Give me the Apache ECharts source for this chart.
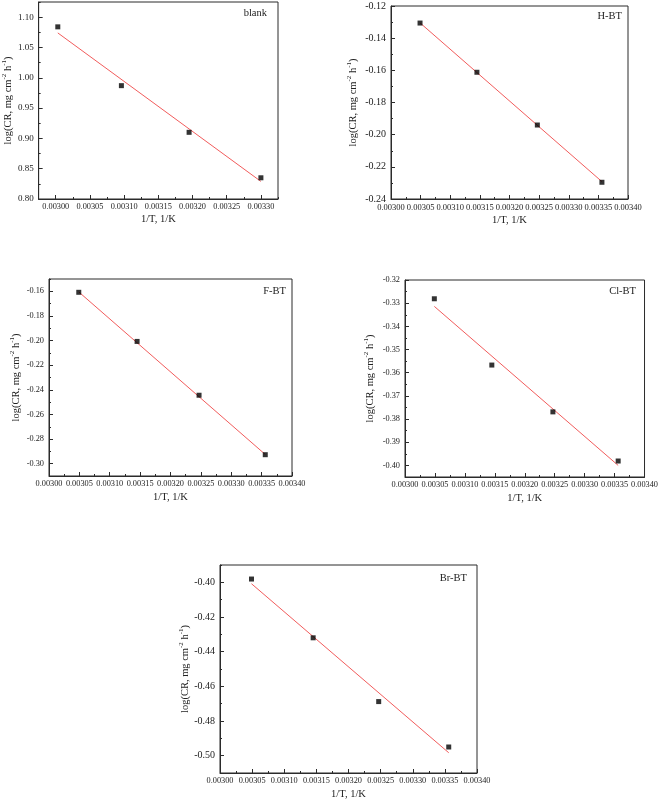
<!DOCTYPE html>
<html>
<head>
<meta charset="utf-8">
<script src="https://cdn.jsdelivr.net/npm/echarts@6/dist/echarts.min.js"></script>
<style>
html,body{margin:0;padding:0;background:#fff;}
#chart{width:661px;height:803px;}
</style>
</head>
<body>
<div id="chart"></div>
<script>
// ---------- data ----------
const panelNames = ['blank', 'H-BT', 'F-BT', 'Cl-BT', 'Br-BT'];

const xBlank = [0.003003, 0.003096, 0.003195, 0.003300];
const xBT = [0.003049, 0.003145, 0.003247, 0.003356];

const yBlank = [1.084, 0.987, 0.910, 0.835];
const yHBT = [-0.1306, -0.1612, -0.1940, -0.2296];
const yFBT = [-0.1608, -0.2007, -0.2444, -0.2927];
const yClBT = [-0.3281, -0.3567, -0.3769, -0.3981];
const yBrBT = [-0.3981, -0.4320, -0.4688, -0.4950];

// fitted line end points
const fitXBlank = [0.003003, 0.003300];
const fitXBT = [0.003049, 0.003356];
const fitBlank = [1.074, 0.829];
const fitHBT = [-0.1305, -0.2292];
const fitFBT = [-0.1605, -0.2925];
const fitClBT = [-0.3314, -0.4000];
const fitBrBT = [-0.4008, -0.4983];

// tick labels
const xTicksBlank = [0.00300, 0.00305, 0.00310, 0.00315, 0.00320, 0.00325, 0.00330];
const xTicksBT = [0.00300, 0.00305, 0.00310, 0.00315, 0.00320, 0.00325, 0.00330, 0.00335, 0.00340];
const yTicksBlank = [0.80, 0.85, 0.90, 0.95, 1.00, 1.05, 1.10];
const yTicksHBT = [-0.24, -0.22, -0.20, -0.18, -0.16, -0.14, -0.12];
const yTicksFBT = [-0.30, -0.28, -0.26, -0.24, -0.22, -0.20, -0.18, -0.16];
const yTicksClBT = [-0.40, -0.39, -0.38, -0.37, -0.36, -0.35, -0.34, -0.33, -0.32];
const yTicksBrBT = [-0.50, -0.48, -0.46, -0.44, -0.42, -0.40];

// ---------- layout / style ----------
const FONT = '"Liberation Serif", "Times New Roman", serif';
const panels = [
  {name: panelNames[0], x: xBlank, y: yBlank, fx: fitXBlank, fy: fitBlank,
   xr: [0.002975, 0.003325], xMinor: 0.000025, xT: xTicksBlank,
   yr: [0.80, 1.125], yMinor: 0.025, yT: yTicksBlank,
   grid: {left: 35, top: 2, width: 243, height: 197}, yFont: 9, xFont: 8.3, yGap: 22, xGap: 15,
   lab: {right: 394, top: 8}},
  {name: panelNames[1], x: xBT, y: yHBT, fx: fitXBT, fy: fitHBT,
   xr: [0.00300, 0.00340], xMinor: 0.000025, xT: xTicksBT,
   yr: [-0.24, -0.12], yMinor: 0.01, yT: yTicksHBT,
   grid: {left: 391, top: 6, width: 237, height: 193}, yFont: 10, xFont: 8.5, yGap: 32, xGap: 16,
   lab: {right: 39, top: 11}},
  {name: panelNames[2], x: xBT, y: yFBT, fx: fitXBT, fy: fitFBT,
   xr: [0.00300, 0.00340], xMinor: 0.000025, xT: xTicksBT,
   yr: [-0.31, -0.15], yMinor: 0.01, yT: yTicksFBT,
   grid: {left: 49, top: 279, width: 243, height: 197}, yFont: 8.3, xFont: 8.3, yGap: 27, xGap: 16,
   lab: {right: 375, top: 286}},
  {name: panelNames[3], x: xBT, y: yClBT, fx: fitXBT, fy: fitClBT,
   xr: [0.00300, 0.00340], xMinor: 0.000025, xT: xTicksBT,
   yr: [-0.405, -0.32], yMinor: 0.005, yT: yTicksClBT,
   grid: {left: 405, top: 280, width: 241, height: 197}, yFont: 8.3, xFont: 8.3, yGap: 29, xGap: 16,
   lab: {right: 25, top: 286}},
  {name: panelNames[4], x: xBT, y: yBrBT, fx: fitXBT, fy: fitBrBT,
   xr: [0.00300, 0.00340], xMinor: 0.000025, xT: xTicksBT,
   yr: [-0.51, -0.39], yMinor: 0.01, yT: yTicksBrBT,
   grid: {left: 220, top: 565, width: 257, height: 208}, yFont: 10, xFont: 8.3, yGap: 29, xGap: 16,
   lab: {right: 194, top: 573}}
];

const AX = '#2b2b2b';
const grids = [], xAxes = [], yAxes = [], series = [], titles = [];

panels.forEach((p, i) => {
  grids.push(Object.assign({show: true, borderColor: AX, borderWidth: 1, backgroundColor: '#fff', containLabel: false}, p.grid));
  xAxes.push({
    type: 'value', gridIndex: i, min: p.xr[0], max: p.xr[1], position: 'bottom',
    name: '1/T, 1/K', nameLocation: 'middle', nameGap: p.xGap,
    nameTextStyle: {fontFamily: FONT, fontSize: 10.5, color: '#222'},
    axisLine: {show: true, lineStyle: {color: AX, width: 1}},
    axisTick: {show: true, inside: true, length: 4, customValues: p.xT, lineStyle: {color: AX}},
    axisLabel: {show: true, customValues: p.xT, margin: 4, fontFamily: FONT, fontSize: p.xFont, color: '#222',
      formatter: v => v.toFixed(5)},
    splitLine: {show: false}
  });
  xAxes.push({
    type: 'value', gridIndex: i, min: p.xr[0], max: p.xr[1], interval: p.xMinor, position: 'bottom',
    axisLine: {show: false},
    axisTick: {show: true, inside: true, length: 2, lineStyle: {color: AX}},
    axisLabel: {show: false}, splitLine: {show: false}
  });
  yAxes.push({
    type: 'value', gridIndex: i, min: p.yr[0], max: p.yr[1], position: 'left',
    name: '{a|log(CR, mg cm}{s|-2}{a| h}{s|-1}{a|)}', nameLocation: 'middle', nameGap: p.yGap, nameRotate: 90,
    nameTextStyle: {fontFamily: FONT, fontSize: 10.5, color: '#222',
      rich: {a: {fontFamily: FONT, fontSize: 10.5, color: '#222', lineHeight: 13, verticalAlign: 'bottom'},
             s: {fontFamily: FONT, fontSize: 7, color: '#222', lineHeight: 13, verticalAlign: 'top'}}},
    axisLine: {show: true, lineStyle: {color: AX, width: 1}},
    axisTick: {show: true, inside: true, length: 4, customValues: p.yT, lineStyle: {color: AX}},
    axisLabel: {show: true, customValues: p.yT, margin: 5, fontFamily: FONT, fontSize: p.yFont, color: '#222',
      formatter: v => v.toFixed(2)},
    splitLine: {show: false}
  });
  yAxes.push({
    type: 'value', gridIndex: i, min: p.yr[0], max: p.yr[1], interval: p.yMinor, position: 'left',
    axisLine: {show: false},
    axisTick: {show: true, inside: true, length: 2, lineStyle: {color: AX}},
    axisLabel: {show: false}, splitLine: {show: false}
  });
  series.push({
    type: 'line', xAxisIndex: 2 * i, yAxisIndex: 2 * i,
    data: p.fx.map((x, k) => [x, p.fy[k]]),
    showSymbol: false, symbol: 'none', silent: true,
    lineStyle: {color: '#f25c5c', width: 1}, z: 2
  });
  series.push({
    type: 'scatter', xAxisIndex: 2 * i, yAxisIndex: 2 * i,
    data: p.x.map((x, k) => [x, p.y[k]]),
    symbol: 'rect', symbolSize: 5, itemStyle: {color: '#000'}, z: 3
  });
  titles.push({text: p.name, right: p.lab.right, top: p.lab.top, padding: 0,
    textStyle: {fontFamily: FONT, fontSize: 10.5, fontWeight: 'normal', color: '#222'}});
});

const chart = echarts.init(document.getElementById('chart'), null, {renderer: 'canvas'});
chart.setOption({
  animation: false,
  backgroundColor: '#fff',
  title: titles,
  grid: grids,
  xAxis: xAxes,
  yAxis: yAxes,
  series: series
});
</script>
</body>
</html>
